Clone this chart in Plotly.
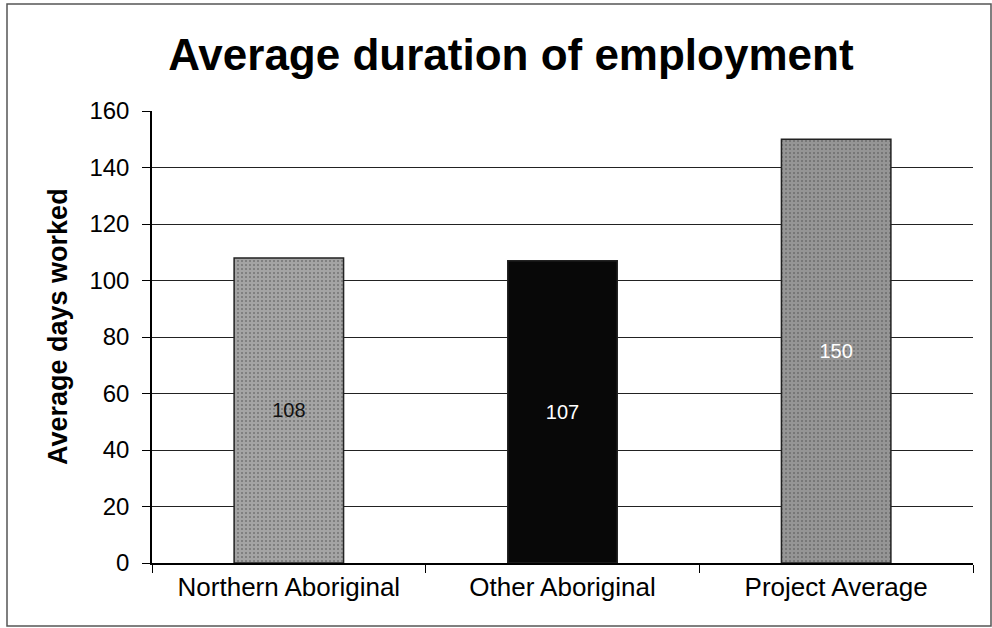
import plotly.graph_objects as go

categories = ["Northern Aboriginal", "Other Aboriginal", "Project Average"]
values = [108, 107, 150]
bar_colors = ["#a4a4a4", "#080808", "#959595"]
pattern_shapes = [".", "", "."]
pattern_fg = ["#d8d8d8", "#2a2a2a", "#d0d0d0"]
text_colors = ["#111111", "#ffffff", "#ffffff"]
y_ticks = [0, 20, 40, 60, 80, 100, 120, 140, 160]

# plot area in page pixels
L, R, T, B = 152, 973, 111, 563
W, H = 992, 628
pw, ph = R - L, B - T

fig = go.Figure()
fig.add_trace(go.Bar(
    x=categories, y=values,
    width=0.4,
    marker=dict(color=bar_colors, line=dict(color="#222222", width=1.5),
                pattern=dict(shape=pattern_shapes, size=4, solidity=0.2, fgcolor=pattern_fg)),
    text=[str(v) for v in values],
    textposition="inside", insidetextanchor="middle",
    textfont=dict(family="Arial, Liberation Sans", size=20, color=text_colors),
    textangle=0,
    hoverinfo="skip",
))

fig.update_layout(
    width=W, height=H,
    margin=dict(l=L, r=W - R, t=T, b=H - B),
    paper_bgcolor="white", plot_bgcolor="white",
    showlegend=False,
    title=dict(text="<b>Average duration of employment</b>", x=0.515, xanchor="center",
               y=1 - 55 / H, yanchor="middle",
               font=dict(family="Arial, Liberation Sans", size=44, color="black")),
    font=dict(family="Arial, Liberation Sans", color="black"),
    bargap=0.6,
)
fig.update_yaxes(
    range=[0, 160], tickvals=y_ticks, ticks="outside", ticklen=8, tickcolor="black",
    showline=True, linecolor="black", linewidth=1.5,
    showgrid=True, gridcolor="#222222", gridwidth=1,
    tickfont=dict(size=24), zeroline=False, ticklabelstandoff=8,
)
fig.update_xaxes(
    showline=True, linecolor="black", linewidth=1.5,
    ticks="outside", ticklen=8, tickcolor="black", tickson="boundaries",
    tickfont=dict(size=26),
)
fig.add_annotation(text="<b>Average days worked</b>", xref="paper", yref="paper",
                   x=(58 - L) / pw, y=(B - 327) / ph, xanchor="center", yanchor="middle",
                   textangle=-90, showarrow=False, font=dict(size=27, color="black"))
fig.add_shape(type="rect", xref="paper", yref="paper",
              x0=(7 - L) / pw, x1=(991 - L) / pw, y0=(B - 626) / ph, y1=(B - 4) / ph,
              line=dict(color="#555555", width=1.5))

fig.write_html("out.html", config={"displayModeBar": False},
               post_script="document.body.style.margin='0';document.body.style.overflow='hidden';")
